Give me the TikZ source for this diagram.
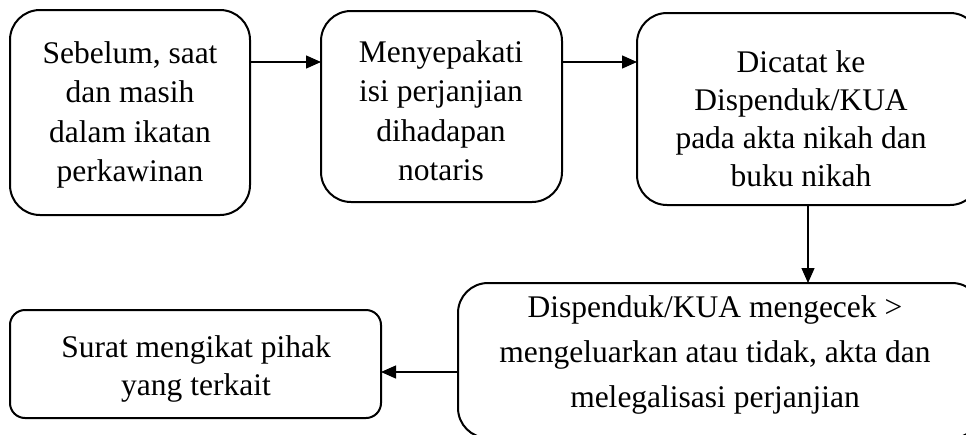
\documentclass[tikz,border=0pt]{standalone}
\usepackage{fontspec}
\setmainfont{Liberation Serif}
\usetikzlibrary{arrows.meta}
\newcommand{\boxtext}[2]{{\fontsize{31.5}{#1}\selectfont\begin{tabular}[t]{@{}c@{}}#2\end{tabular}}}
\begin{document}
\begin{tikzpicture}[x=1pt,y=-1pt,
  bigbox/.style={draw, line width=2pt, rounded corners=30pt, minimum width=#1, inner sep=0pt, outer sep=0pt},
  smallbox/.style={draw, line width=2pt, rounded corners=15pt, inner sep=0pt, outer sep=0pt},
  txt/.style={anchor=base, inner sep=0pt},
  arr/.style={-{Triangle[length=15pt,width=13pt]}, line width=1.3pt}]
\useasboundingbox (0,0) rectangle (966,434);
\begin{scope}
\clip (0,0) rectangle (966,434);
\node[bigbox=240pt, minimum height=205pt] (b1) at (130,112.5) {};
\node[bigbox=241pt, minimum height=191pt] (b2) at (441.5,106.5) {};
\node[bigbox=343pt, minimum height=192pt] (b3) at (808.5,109) {};
\node[bigbox=524pt, minimum height=155pt] (b4) at (720,360.5) {};
\node[smallbox, minimum width=371pt, minimum height=108pt] (b5) at (195.5,364) {};

\node[txt] (t1) at (130,63) {\boxtext{39.5}{Sebelum, saat\\dan masih\\dalam ikatan\\perkawinan}};
\node[txt] (t2) at (441,62) {\boxtext{39.5}{Menyepakati\\isi perjanjian\\dihadapan\\notaris}};
\node[txt] (t3) at (801,72) {\boxtext{38}{Dicatat ke\hspace{14pt}\\Dispenduk/KUA\\pada akta nikah dan\\buku nikah}};
\node[txt] (t4) at (715,317) {\boxtext{45}{Dispenduk/KUA mengecek >\\mengeluarkan atau tidak, akta dan\\melegalisasi perjanjian}};
\node[txt] (t5) at (196,357) {\boxtext{38}{Surat mengikat pihak\\yang terkait}};

\coordinate (ya) at (0,62);
\coordinate (xd) at (808,0);
\coordinate (yl) at (0,372);
\draw[arr] (b1.east |- ya) -- (b2.west |- ya);
\draw[arr] (b2.east |- ya) -- (b3.west |- ya);
\draw[arr] (b3.south -| xd) -- (b4.north -| xd);
\draw[arr] (b4.west |- yl) -- (b5.east |- yl);
\end{scope}
\end{tikzpicture}
\end{document}
